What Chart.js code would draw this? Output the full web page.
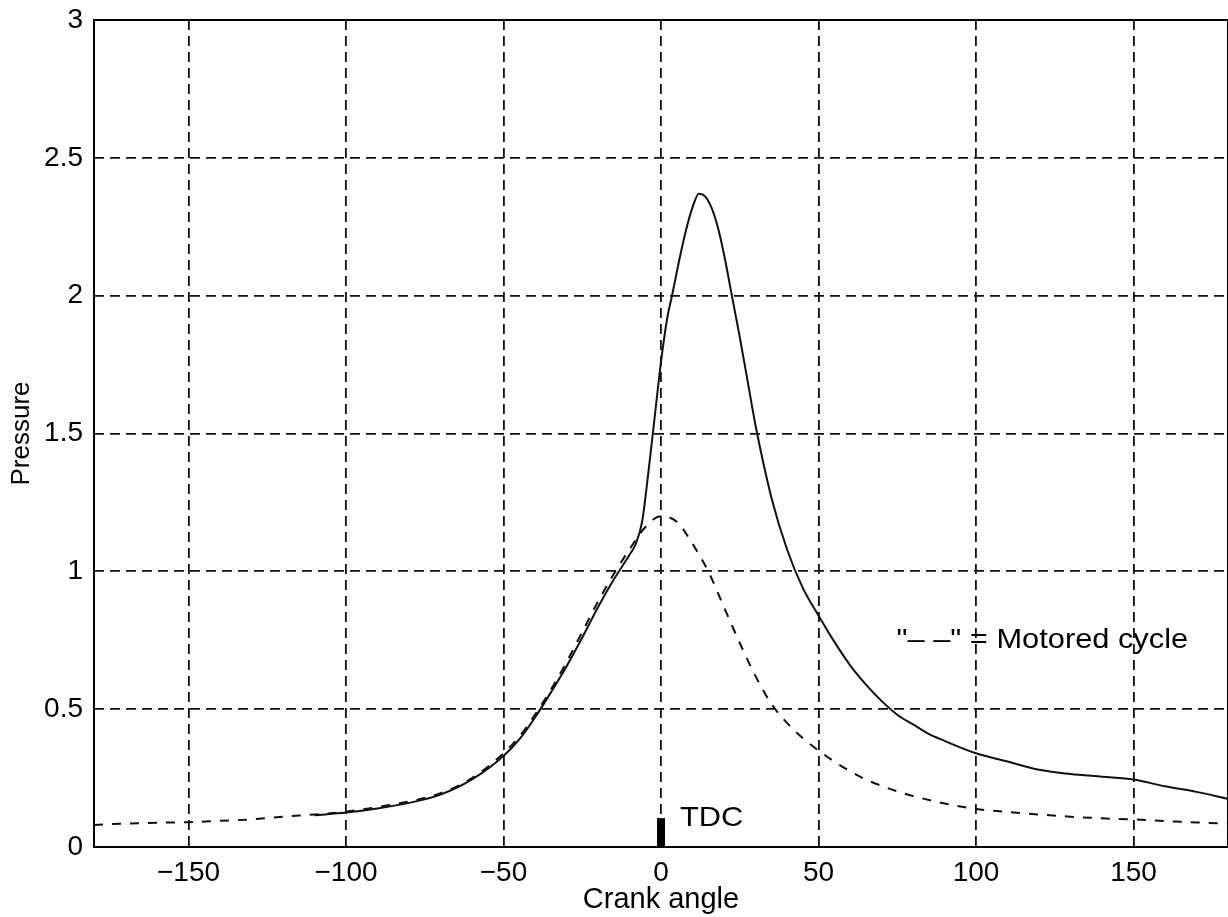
<!DOCTYPE html>
<html>
<head>
<meta charset="utf-8">
<title>Cylinder pressure vs crank angle</title>
<script src="https://cdn.jsdelivr.net/npm/chart.js@4.4.1/dist/chart.umd.min.js"></script>
<style>
  html, body { margin: 0; padding: 0; background: #fff; overflow: hidden; }
  #wrap { width: 1228px; height: 917px; position: relative; }
</style>
</head>
<body>
<div id="wrap"><canvas id="c" width="1228" height="917"></canvas></div>
<script>
// Fired cycle (solid)
const crankAngleFired = [-110, -100, -90, -80, -70, -60, -50, -45, -40, -35, -30, -25, -20, -15, -10, -8, -6, -4, -2, 0, 2, 3.5, 6, 8, 10, 12, 14, 16, 18, 20, 22.5, 25, 27.5, 30, 35, 40, 45, 50, 55, 60, 65, 70, 75, 80, 85, 90, 100, 110, 120, 130, 140, 150, 160, 170, 180];
const pressureFired = [0.115, 0.125, 0.14, 0.16, 0.19, 0.245, 0.33, 0.39, 0.47, 0.56, 0.655, 0.76, 0.87, 0.97, 1.06, 1.1, 1.18, 1.36, 1.56, 1.76, 1.92, 2.0, 2.14, 2.24, 2.32, 2.37, 2.36, 2.32, 2.25, 2.15, 2.0, 1.85, 1.69, 1.53, 1.27, 1.08, 0.94, 0.84, 0.745, 0.66, 0.59, 0.53, 0.48, 0.445, 0.41, 0.385, 0.34, 0.31, 0.28, 0.265, 0.255, 0.245, 0.22, 0.2, 0.175];

// Motored cycle (dashed)
const crankAngleMotored = [-180, -170, -160, -150, -140, -130, -120, -110, -100, -90, -80, -70, -60, -50, -45, -40, -35, -30, -25, -20, -15, -10, -5, 0, 5, 10, 15, 20, 25, 30, 35, 40, 45, 50, 55, 60, 65, 70, 75, 80, 90, 100, 110, 120, 130, 140, 150, 160, 170, 180];
const pressureMotored = [0.08, 0.085, 0.088, 0.09, 0.095, 0.1, 0.11, 0.118, 0.128, 0.145, 0.165, 0.195, 0.25, 0.34, 0.4, 0.48, 0.57, 0.67, 0.78, 0.89, 0.99, 1.08, 1.16, 1.2, 1.18, 1.1, 1.0, 0.87, 0.74, 0.62, 0.52, 0.45, 0.395, 0.35, 0.31, 0.275, 0.245, 0.222, 0.202, 0.185, 0.158, 0.138, 0.127, 0.118, 0.11, 0.104, 0.1, 0.094, 0.089, 0.085];

// Top dead centre marker (angle, height)
const tdcAngle = [0, 0];
const tdcHeight = [0, 0.105];

const xTicks = [-150, -100, -50, 0, 50, 100, 150];
const yTicks = [0, 0.5, 1, 1.5, 2, 2.5, 3];

const tdcLabel = { text: 'TDC', x: 6, y: 0.105 };
const noteLabel = { text: '"\u2013 \u2013" = Motored cycle', x: 74.8, y: 0.75 };

const FONT = "'Liberation Sans', Arial, Helvetica, sans-serif";

const toPoints = (xs, ys) => xs.map((x, i) => ({ x: x, y: ys[i] }));

const annotations = {
  id: 'annotations',
  beforeDatasetsDraw(chart) {
    const { ctx, chartArea: a } = chart;
    ctx.save();
    ctx.strokeStyle = '#000';
    ctx.lineWidth = 2;
    ctx.setLineDash([]);
    ctx.strokeRect(a.left, a.top, a.right - a.left, a.bottom - a.top);
    ctx.restore();
  },
  afterDatasetsDraw(chart) {
    const { ctx, scales: { x, y } } = chart;
    ctx.save();
    ctx.fillStyle = '#000';
    ctx.font = '28px ' + FONT;
    ctx.textAlign = 'left';
    ctx.textBaseline = 'middle';
    [tdcLabel, noteLabel].forEach(l => {
      const px = x.getPixelForValue(l.x);
      const py = y.getPixelForValue(l.y);
      ctx.save();
      ctx.translate(px, py);
      ctx.scale(1.1, 1);
      ctx.fillText(l.text, 0, 0);
      ctx.restore();
    });
    ctx.restore();
  }
};

new Chart(document.getElementById('c'), {
  type: 'line',
  data: {
    datasets: [
      {
        label: 'Fired',
        data: toPoints(crankAngleFired, pressureFired),
        borderColor: '#111',
        borderWidth: 2,
        pointRadius: 0,
        cubicInterpolationMode: 'monotone',
        fill: false
      },
      {
        label: 'Motored',
        data: toPoints(crankAngleMotored, pressureMotored),
        borderColor: '#111',
        borderWidth: 2,
        borderDash: [9, 9],
        pointRadius: 0,
        cubicInterpolationMode: 'monotone',
        fill: false
      },
      {
        label: 'TDC',
        data: toPoints(tdcAngle, tdcHeight),
        borderColor: '#000',
        borderWidth: 8,
        borderCapStyle: 'butt',
        pointRadius: 0,
        fill: false
      }
    ]
  },
  options: {
    responsive: false,
    animation: false,
    events: [],
    layout: { padding: { top: 20, right: 0, left: 0, bottom: 0 } },
    plugins: { legend: { display: false }, tooltip: { enabled: false } },
    scales: {
      x: {
        type: 'linear',
        min: -180,
        max: 180,
        afterBuildTicks: s => { s.ticks = xTicks.map(v => ({ value: v })); },
        afterFit: s => { s.height = 70; s.paddingLeft = 0; s.paddingRight = 0; },
        grid: { color: '#111', lineWidth: 1.8, drawTicks: false },
        border: { display: false, dash: [10, 6] },
        ticks: {
          color: '#000',
          padding: 9,
          font: { family: FONT, size: 28 },
          callback: v => (v < 0 ? '\u2212' + Math.abs(v) : String(v))
        },
        title: {
          display: true,
          text: 'Crank angle',
          color: '#000',
          font: { family: FONT, size: 29, lineHeight: 1 },
          padding: { top: 0, bottom: 3 }
        }
      },
      y: {
        type: 'linear',
        min: 0,
        max: 3,
        afterBuildTicks: s => { s.ticks = yTicks.map(v => ({ value: v })); },
        afterFit: s => { s.width = 94; s.paddingTop = 0; s.paddingBottom = 0; },
        grid: { color: '#111', lineWidth: 1.8, drawTicks: false },
        border: { display: false, dash: [10, 6] },
        ticks: {
          color: '#000',
          padding: 11,
          font: { family: FONT, size: 28 },
          callback: v => String(v)
        },
        title: {
          display: true,
          text: 'Pressure',
          color: '#000',
          font: { family: FONT, size: 26, lineHeight: 1.2 },
          padding: { top: 6, bottom: 0 }
        }
      }
    }
  },
  plugins: [annotations]
});
</script>
</body>
</html>
